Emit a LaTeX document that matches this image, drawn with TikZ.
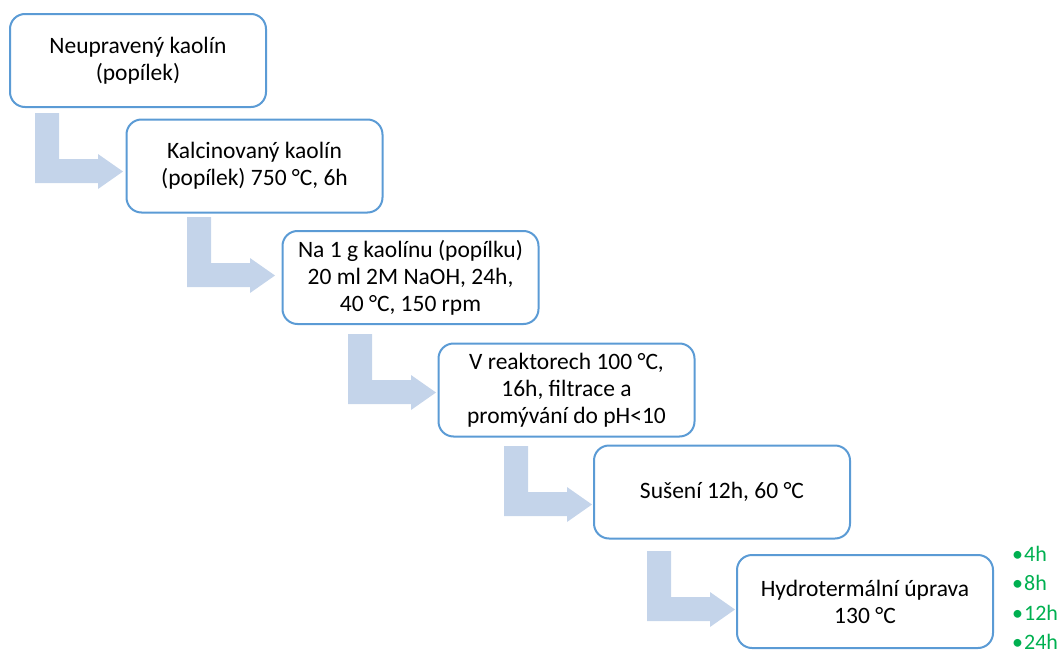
\documentclass[tikz,border=0pt]{standalone}
\usepackage{fontspec}
\setmainfont{Carlito}
\definecolor{boxblue}{RGB}{91,155,213}
\definecolor{arrowfill}{RGB}{196,212,234}
\definecolor{bulletgreen}{RGB}{0,176,80}
\tikzset{
  stepbox/.style={draw=boxblue, line width=2pt, fill=white, rounded corners=15pt,
    minimum width=256pt, minimum height=93pt, align=center, inner sep=2pt,
    font=\fontsize{23.5}{27}\selectfont},
  bentarrow/.pic={\fill[arrowfill] (0,0) -- (24,0) -- (24,46) -- (63,46) -- (63,41)
    -- (88,58.5) -- (63,76) -- (63,70) -- (0,70) -- cycle;},
  greenitem/.style={anchor=base west, text=bulletgreen, inner sep=0pt,
    font=\fontsize{22}{24}\selectfont}
}
\begin{document}
\begin{tikzpicture}[x=1pt,y=-1pt]
\useasboundingbox (0,0) rectangle (1061,653);
% arrows (drawn first, behind boxes)
\pic at (35,113) {bentarrow};
\pic at (187,217) {bentarrow};
\pic at (348,334) {bentarrow};
\pic at (504,446) {bentarrow};
\pic at (647,551) {bentarrow};
% boxes
\node[stepbox] (b1) at (138,60.5) {Neupravený kaolín\\(popílek)};
\node[stepbox] (b2) at (254.5,166) {Kalcinovaný kaolín\\(popílek) 750 °C, 6h};
\node[stepbox] (b3) at (410.5,277.5) {Na 1 g kaolínu (popílku)\\20 ml 2M NaOH, 24h,\\40 °C, 150 rpm};
\node[stepbox] (b4) at (566.5,390) {V reaktorech 100 °C,\\16h, filtrace a\\promývání do pH<10};
\node[stepbox] (b5) at (722,492) {Sušení 12h, 60 °C};
\node[stepbox] (b6) at (865,601.5) {Hydrotermální úprava\\130 °C};
% green list
\node[greenitem] (g1) at (1012,561) {•\hspace{1pt}4h};
\node[greenitem] (g2) at (1012,590.5) {•\hspace{1pt}8h};
\node[greenitem] (g3) at (1012,620) {•\hspace{1pt}12h};
\node[greenitem] (g4) at (1012,649.5) {•\hspace{1pt}24h};
\end{tikzpicture}
\end{document}
